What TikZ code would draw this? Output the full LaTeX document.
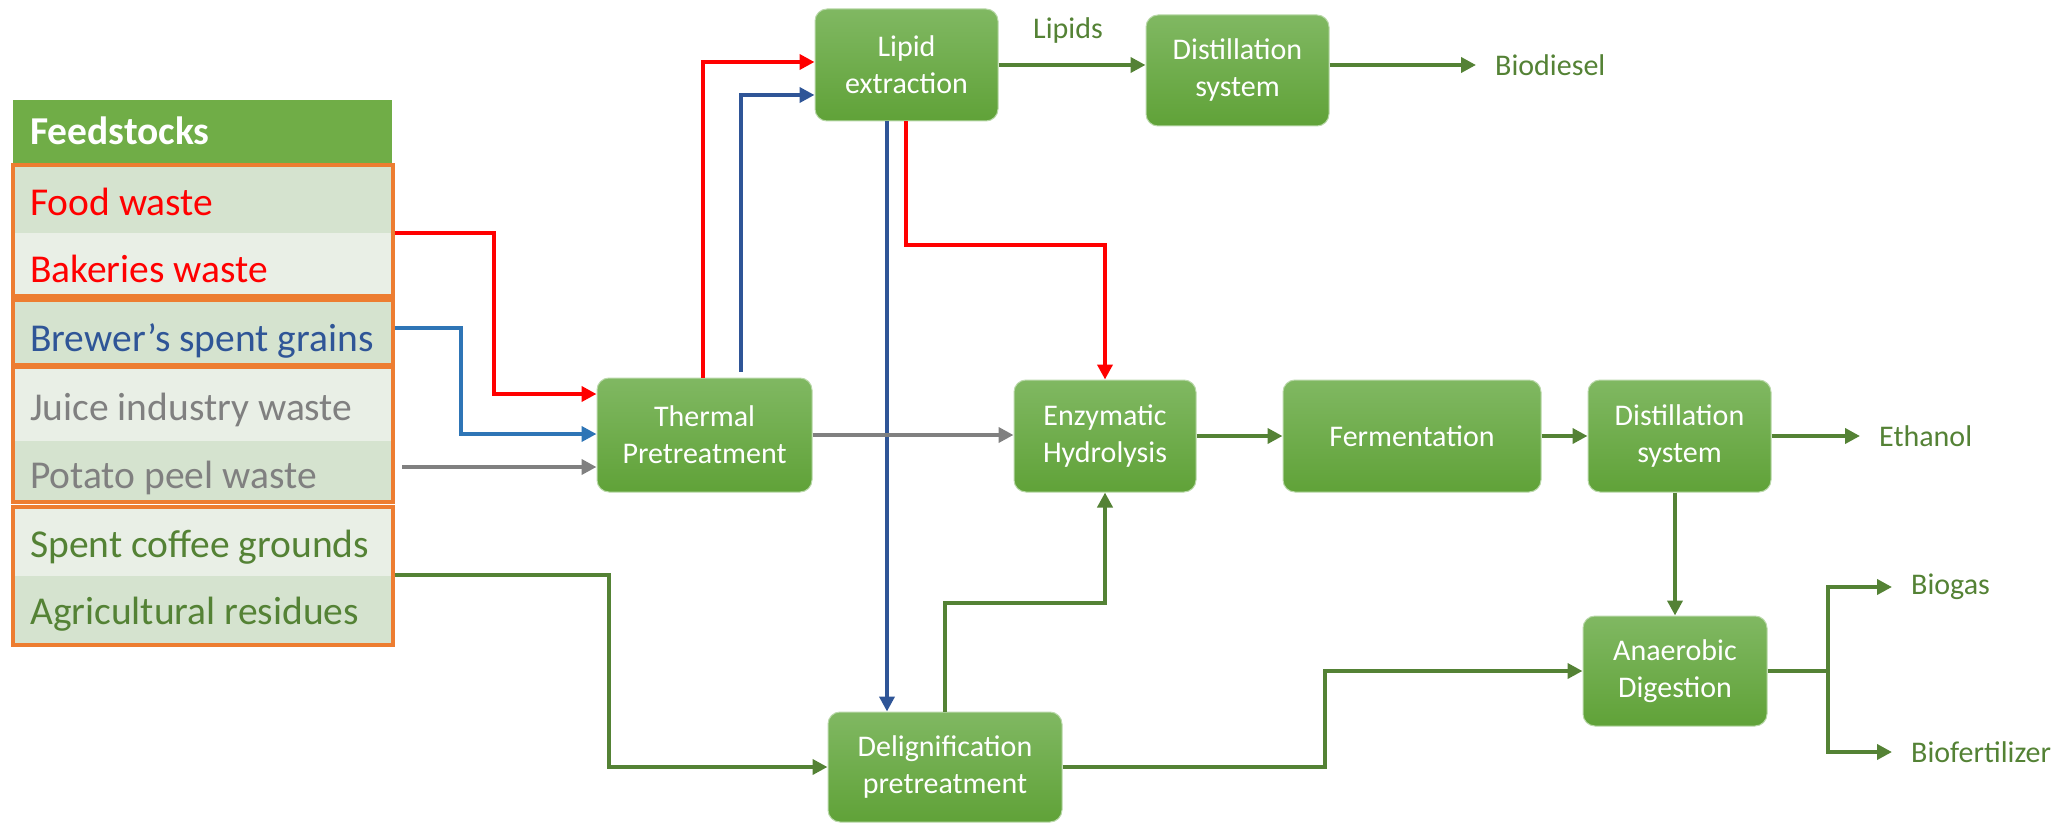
\documentclass[tikz,border=0pt]{standalone}
\usepackage{fontspec}
\setmainfont{Carlito}
\usetikzlibrary{arrows.meta}

\definecolor{boxtop}{RGB}{128,184,98}
\definecolor{boxbot}{RGB}{96,162,56}
\definecolor{hdrgreen}{RGB}{112,173,71}
\definecolor{lnred}{RGB}{255,0,0}
\definecolor{lnblue}{RGB}{47,85,151}
\definecolor{lnlblue}{RGB}{46,117,182}
\definecolor{lngray}{RGB}{128,128,128}
\definecolor{lngreen}{RGB}{84,130,53}
\definecolor{frameorange}{RGB}{237,125,49}
\definecolor{rowdark}{RGB}{213,227,207}
\definecolor{rowlight}{RGB}{233,239,230}

\begin{document}
\begin{tikzpicture}[x=1pt,y=-1pt,
  stage/.style={rounded corners=12pt, top color=boxtop, bottom color=boxbot,
    draw=boxtop!55!white, line width=1pt, text=white, align=center,
    font=\fontsize{30}{37}\selectfont, inner sep=0pt},
  row/.style={anchor=north west, inner sep=0pt, minimum width=379pt},
  rowtext/.style={anchor=west, inner sep=0pt, font=\fontsize{39.5}{46}\selectfont},
  frame/.style={draw=frameorange, line width=4pt, inner sep=0pt,
    minimum width=380pt},
  product/.style={anchor=west, inner xsep=19pt, inner ysep=0pt,
    text=lngreen, font=\fontsize{30}{36}\selectfont},
  flow/.style={line width=4pt, -{Triangle[length=15pt,width=15pt]}},
  plain/.style={line width=4pt}
]
\useasboundingbox (0,0) rectangle (2057,824);

% feedstock list: row backgrounds
\node[row, fill=hdrgreen, minimum height=63pt] (hdr)    at (13,100) {};
\node[row, fill=rowdark,  minimum height=66pt] (food)   at (13,167) {};
\node[row, fill=rowlight, minimum height=61pt] (bak)    at (13,233) {};
\node[row, fill=rowdark,  minimum height=61pt] (brew)   at (13,302) {};
\node[row, fill=rowlight, minimum height=72pt] (juice)  at (13,369) {};
\node[row, fill=rowdark,  minimum height=59pt] (potato) at (13,441) {};
\node[row, fill=rowlight, minimum height=67pt] (coffee) at (13,509) {};
\node[row, fill=rowdark,  minimum height=67pt] (agri)   at (13,576) {};

% feedstock list: labels
\node[rowtext, text=white, font=\fontsize{39.5}{46}\selectfont\bfseries] (thdr) at (30,131) {Feedstocks};
\node[rowtext, text=lnred]   (tfood)   at (30,202) {Food waste};
\node[rowtext, text=lnred]   (tbak)    at (30,269) {Bakeries waste};
\node[rowtext, text=lnblue]  (tbrew)   at (30,341) {Brewer’s spent grains};
\node[rowtext, text=lngray]  (tjuice)  at (30,410) {Juice industry waste};
\node[rowtext, text=lngray]  (tpotato) at (30,478) {Potato peel waste};
\node[rowtext, text=lngreen] (tcoffee) at (30,547) {Spent coffee grounds};
\node[rowtext, text=lngreen] (tagri)   at (30,614) {Agricultural residues};

\node[frame, minimum height=131pt] (f1) at (202.5,230.5) {};
\node[frame, minimum height=65pt]  (f2) at (202.5,332.5) {};
\node[frame, minimum height=135pt] (f3) at (202.5,434.5) {};
\node[frame, minimum height=138pt] (f4) at (202.5,576)   {};

% process stages
\node[stage, minimum width=183pt, minimum height=112pt] (lip)   at (906.5,65)   {Lipid\\extraction};
\node[stage, minimum width=183pt, minimum height=111pt] (dist1) at (1237.5,70.5) {Distillation\\system};
\node[stage, minimum width=215pt, minimum height=114pt] (therm) at (704.5,435)  {Thermal\\Pretreatment};
\node[stage, minimum width=182pt, minimum height=112pt] (enz)   at (1105,436)   {Enzymatic\\Hydrolysis};
\node[stage, minimum width=258pt, minimum height=112pt] (ferm)  at (1412,436)   {Fermentation};
\node[stage, minimum width=183pt, minimum height=112pt] (dist2) at (1679.5,436) {Distillation\\system};
\node[stage, minimum width=184pt, minimum height=110pt] (anae)  at (1675,671)   {Anaerobic\\Digestion};
\node[stage, minimum width=234pt, minimum height=110pt] (delig) at (945,767)    {Delignification\\pretreatment};

% products
\node[product] (bd)  at (1476,65)  {Biodiesel};
\node[product] (eth) at (1860,436) {Ethanol};
\node[product] (bg)  at (1892,587) {Biogas};
\node[product] (bf)  at (1892,752) {Biofertilizer};
\node[text=lngreen, font=\fontsize{30}{36}\selectfont] (lipids) at (1068,31) {Lipids};

\coordinate (gstart) at (402,467);
\coordinate (br) at (1828,671);

% feedstock streams into thermal pretreatment
\draw[flow, lnred]   (f1.east |- 0,233) -| (494,394) -- (therm.west |- 0,394);
\draw[flow, lnlblue] (f2.east |- 0,328) -| (461,434) -- (therm.west |- 0,434);
\draw[flow, lngray]  (gstart) -- (therm.west |- 0,467);

% thermal pretreatment to lipid extraction
\draw[flow, lnred]  (therm.north -| 703,0) |- (lip.west |- 0,62);
\draw[flow, lnblue, shorten <=6pt] (therm.north -| 741,0) |- (lip.west |- 0,95);

% lipid route
\draw[flow, lngreen] (lip.east |- 0,65) -- (dist1.west |- 0,65);
\draw[flow, lngreen] (dist1.east |- 0,65) -- (bd.west);

% lipid extraction residues
\draw[flow, lnred]  (lip.south -| 906,0) |- (enz.north |- 0,245) -- (enz.north);
\draw[flow, lnblue] (lip.south -| 887,0) -- (delig.north -| 887,0);

% ethanol route
\draw[flow, lngray]  (therm.east) -- (enz.west |- therm.east);
\draw[flow, lngreen] (enz.east) -- (ferm.west);
\draw[flow, lngreen] (ferm.east) -- (dist2.west);
\draw[flow, lngreen] (dist2.east) -- (eth.west);
\draw[flow, lngreen] (dist2.south -| anae.north) -- (anae.north);

% lignocellulosic route
\draw[flow, lngreen] (f4.east |- 0,575) -| (609,767) -- (delig.west);
\draw[flow, lngreen] (delig.north) |- (enz.south |- 0,603) -- (enz.south);
\draw[flow, lngreen] (delig.east) -| (1325,671) -- (anae.west);

% anaerobic digestion outputs
\draw[plain, lngreen] (anae.east) -- (br);
\draw[flow, lngreen] (br) |- (bg.west);
\draw[flow, lngreen] (br) |- (bf.west);
\end{tikzpicture}
\end{document}
